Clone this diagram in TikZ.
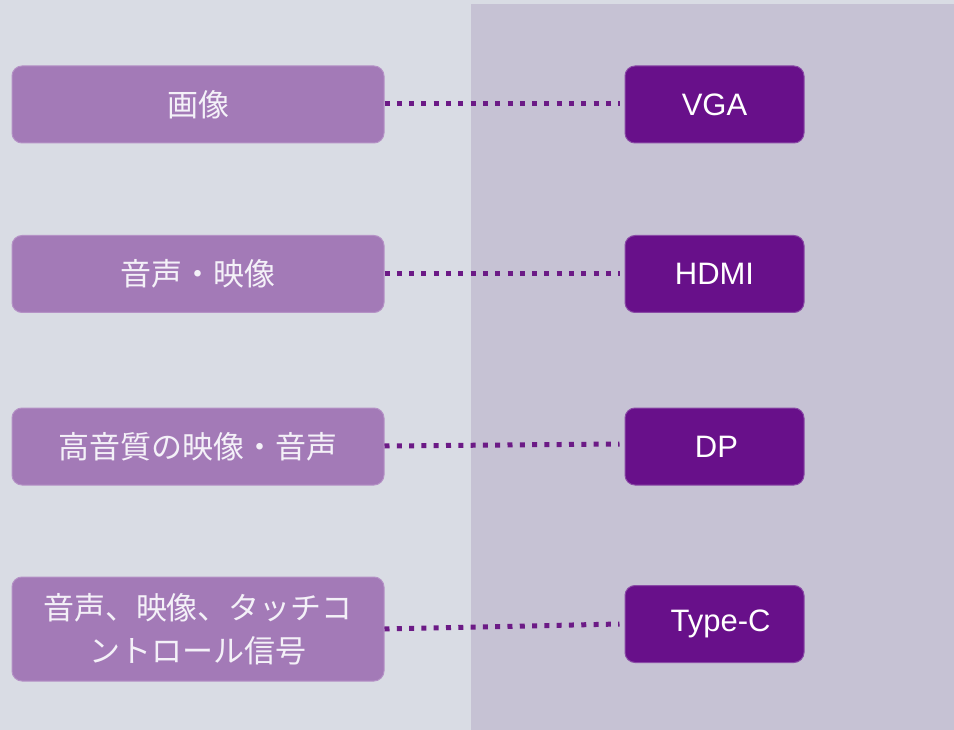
\documentclass[tikz,border=0pt]{standalone}
\usepackage{fontspec}
\setmainfont{Liberation Sans}
\newfontfamily\cjk{Noto Sans CJK JP}
\definecolor{bgleft}{HTML}{D9DCE4}
\definecolor{bgright}{HTML}{C6C2D4}
\definecolor{lfill}{HTML}{A37AB7}
\definecolor{ldraw}{HTML}{B592C6}
\definecolor{rfill}{HTML}{68108A}
\definecolor{rdraw}{HTML}{8A4AA6}
\definecolor{dotcol}{HTML}{6C1A86}
\definecolor{ltext}{HTML}{F4F1F8}
\tikzset{
  lbox/.style={rectangle, rounded corners=10pt, fill=lfill, draw=ldraw, line width=1pt,
    minimum width=372pt, minimum height=77pt, inner sep=0pt, text=ltext, align=center,
    font=\cjk\fontsize{31}{43}\selectfont},
  rbox/.style={rectangle, rounded corners=10pt, fill=rfill, draw=rdraw, line width=1pt,
    minimum width=179pt, minimum height=77pt, inner sep=0pt, text=white,
    font=\fontsize{31}{36}\selectfont},
  dotline/.style={draw=dotcol, line width=5pt, dash pattern=on 5pt off 7.3pt}
}
\begin{document}
\begin{tikzpicture}[x=1pt,y=-1pt]
\useasboundingbox (0,0) rectangle (954,730);
\fill[bgleft] (0,0) rectangle (954,730);
\fill[bgright] (471,4) rectangle (954,730);

\node[lbox] (l1) at (198,104.5) {\raisebox{2pt}{画像}};
\node[lbox] (l2) at (198,274) {音声・映像};
\node[lbox] (l3) at (198,446.5) {高音質の映像・音声};
\node[lbox, minimum height=104pt] (l4) at (198,629) {音声、映像、タッチコ\\ントロール信号};

\node[rbox] (r1) at (714.5,104.5) {VGA};
\node[rbox] (r2) at (714.5,274) {HDMI};
\node[rbox] (r3) at (714.5,446.5) {\hspace*{4pt}DP};
\node[rbox] (r4) at (714.5,624) {\hspace*{12pt}Type-C};

\draw[dotline] ([yshift=0.5pt]l1.east) -- ([xshift=-5pt,yshift=0.5pt]r1.west);
\draw[dotline] ([yshift=0pt]l2.east) -- ([xshift=-5pt,yshift=0pt]r2.west);
\draw[dotline] ([yshift=0.5pt]l3.east) -- ([xshift=-5pt,yshift=2.5pt]r3.west);
\draw[dotline] (l4.east) -- ([xshift=-5pt]r4.west);
\end{tikzpicture}
\end{document}
